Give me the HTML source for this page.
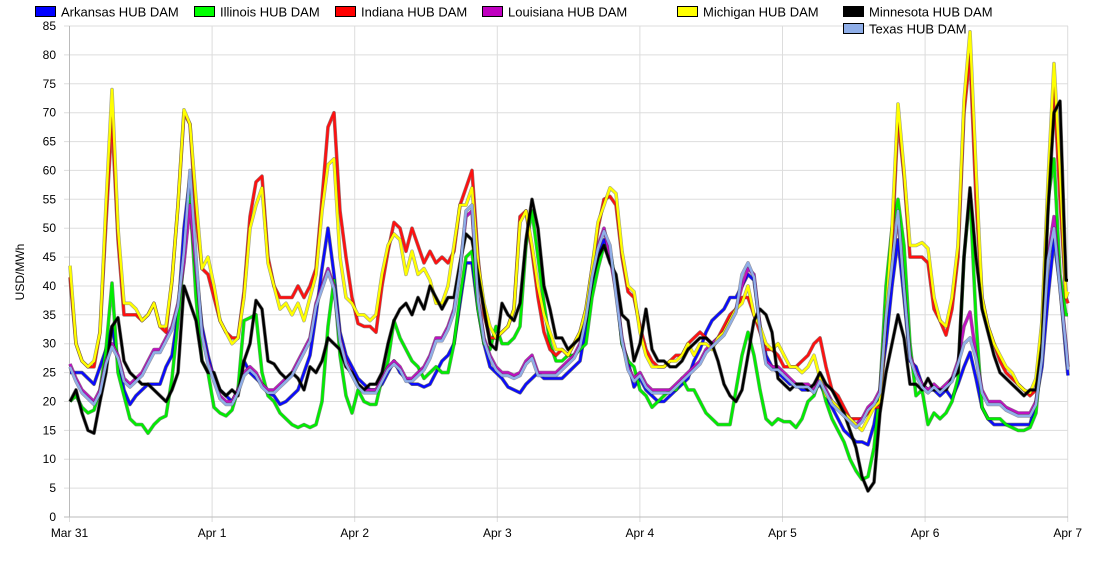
<!DOCTYPE html>
<html><head><meta charset="utf-8"><style>
body{margin:0;background:#fff;width:1100px;height:570px;overflow:hidden;font-family:"Liberation Sans",sans-serif}
</style></head><body>
<svg id="s" width="1100" height="570" xmlns="http://www.w3.org/2000/svg" font-family="Liberation Sans, sans-serif" font-size="12"></svg>
<script>
const S=document.getElementById('s');let h='';
const X0=69.5,DX=142.6,Y0=517,PU=5.776;
const y=v=>Y0-v*PU;
for(let v=0;v<=85;v+=5){const yy=y(v).toFixed(1);h+=`<line x1="64" x2="1068" y1="${yy}" y2="${yy}" stroke="#ddd"/>`;h+=`<text x="56" y="${(+yy+4).toFixed(1)}" text-anchor="end" fill="#000">${v}</text>`;}
const days=['Mar 31','Apr 1','Apr 2','Apr 3','Apr 4','Apr 5','Apr 6','Apr 7'];
days.forEach((d,i)=>{const x=(X0+DX*i).toFixed(1);h+=`<line x1="${x}" x2="${x}" y1="26" y2="522" stroke="#ddd"/>`;h+=`<text x="${x}" y="537" text-anchor="middle">${d}</text>`;});
h+=`<line x1="69.5" x2="69.5" y1="26" y2="517" stroke="#bbb"/><line x1="64" x2="1068" y1="517" y2="517" stroke="#bbb"/>`;
h+=`<text transform="translate(24,272) rotate(-90)" text-anchor="middle">USD/MWh</text>`;
function P(s){return s.split(',').map(p=>p.split(':').map(Number));}
const MI=P("70:43.5,76:30,82:27,88:26,94:27,100:32,106:54,112:74,118:50,124:37,130:37,136:36,142:34,148:35,154:37,160:33,166:33,172:41,178:54,184:70.5,190:68,196:55,202:43,208:45,214:40,220:34,226:32,232:30,238:31,244:38,250:50,256:54,262:57,268:44,274:40,280:36,286:37,292:35,298:37,304:34,310:38,316:42,322:53,328:61,334:62,340:45,346:38,352:37,358:35,364:35,370:34,376:35,382:42,388:47,394:49,400:48,406:42,412:46,418:42,424:43,430:41,436:37,442:37,448:40,454:47,460:54,466:54,472:57,478:44,484:37,490:33,496:31,502:32,508:33,514:36,520:51,526:53,532:47,538:40,544:35,550:32,556:29,562:29,568:28,574:30,580:32,586:36,592:43,598:51,604:54,610:57,616:56,622:46,628:40,634:39,640:32,646:28,652:26,658:26,664:26,670:27,676:27,682:28,688:30,694:28,700:30,706:30,712:29,718:31,724:32,730:34,736:36,742:37,748:40,754:35,760:33,766:30,772:29,778:30,784:28,790:26,796:26,802:25,808:26,814:28,820:24,826:21,832:20,838:19,844:18,850:17,856:16,862:15,868:17,874:19,880:20,886:35,892:50,898:71.5,904:60,910:47,916:47,922:47.5,928:46.5,934:38,940:34,946:33,952:38,958:47,964:72,970:84,976:60,982:38,988:33,994:30,1000:28,1006:26,1012:25,1018:23,1024:22,1030:21.5,1036:24,1042:34,1048:58,1054:78.5,1060:60,1066:38,1068:39");
const IN=P("70:41.5,76:30,82:27,88:26,94:26,100:32,106:51,112:69,118:48,124:35,130:35,136:35,142:34,148:35,154:37,160:33,166:32,172:41,178:54,184:70,190:68,196:52,202:43,208:42,214:38,220:34,226:32,232:31,238:31,244:39,250:52,256:58,262:59,268:45,274:40,280:38,286:38,292:38,298:40,304:38,310:40,316:43,322:55,328:67.5,334:70,340:53,346:45,352:38,358:33.5,364:33,370:33,376:32,382:40,388:46,394:51,400:50,406:46,412:50,418:47,424:44,430:46,436:44,442:45,448:44,454:46,460:54,466:57,472:60,478:45,484:35,490:31,496:31,502:32,508:33,514:36,520:52,526:53,532:46,538:38,544:32,550:29,556:28,562:29,568:28,574:30,580:32,586:36,592:43,598:50,604:55,610:55.5,616:54,622:45,628:39,634:38,640:33,646:29,652:27,658:26,664:26,670:27,676:28,682:28,688:30,694:31,700:32,706:31,712:30,718:31,724:33,730:35,736:36,742:38,748:38,754:35,760:32,766:29,772:29,778:28,784:26,790:26,796:26,802:27,808:28,814:30,820:31,826:26,832:22,838:21,844:19,850:17,856:17,862:17,868:18,874:19,880:19,886:34,892:47,898:69,904:59,910:45,916:45,922:45,928:44,934:36,940:34,946:31.5,952:36,958:45,964:70,970:80,976:55,982:38,988:33,994:30,1000:27,1006:25,1012:24,1018:23,1024:22,1030:21,1036:22,1042:33,1048:55,1054:75,1060:55,1066:38,1068:37");
const MN=P("70:20,76:22,82:18,88:15,94:14.5,100:20,106:25,112:33,118:34.5,124:27,130:25,136:24,142:23,148:23,154:22,160:21,166:20,172:22,178:25,184:40,190:37,196:34,202:27,208:25,214:25,220:22,226:21,232:22,238:21,244:27,250:30,256:37.5,262:36,268:27,274:26.5,280:25,286:24,292:25,298:24,304:22,310:26,316:25,322:27,328:31,334:30,340:29,346:26,352:25,358:23,364:22,370:23,376:23,382:25,388:30,394:34,400:36,406:37,412:35,418:38,424:36,430:40,436:38,442:36,448:38,454:38,460:44,466:49,472:48,478:42,484:36,490:30,496:29,502:37,508:35,514:34,520:37,526:48,532:55,538:50,544:40,550:36,556:31,562:31,568:29,574:30,580:31,586:34,592:41,598:45,604:47,610:44,616:42,622:35,628:34,634:27,640:30,646:36,652:29,658:27,664:27,670:26,676:26,682:27,688:29,694:30,700:31,706:31,712:30,718:27,724:23,730:21,736:20,742:22,748:28,754:34,760:36,766:35,772:32,778:24,784:23,790:22,796:23,802:23,808:22,814:23,820:25,826:23,832:22,838:20,844:18,850:15,856:12,862:7,868:4.5,874:6,880:18,886:25,892:30,898:35,904:31,910:23,916:23,922:22,928:24,934:22,940:22,946:22,952:24,958:25,964:45,970:57,976:45,982:36,988:32,994:28,1000:25,1006:24,1012:23,1018:22,1024:21,1030:22,1036:22,1042:30,1048:53,1054:70,1060:72,1066:41,1068:41");
const AR=P("70:25,76:25,82:25,88:24,94:23,100:26,106:29,112:33,118:27,124:22,130:19.5,136:21,142:22,148:23,154:23,160:23,166:26,172:28,178:35,184:50,190:59,196:43,202:33,208:28,214:24,220:22,226:21,232:20,238:22,244:27,250:25,256:24,262:23,268:21.5,274:21,280:19.5,286:20,292:21,298:22,304:25,310:28,316:35,322:43,328:50,334:42,340:32,346:28,352:26,358:24,364:23,370:22,376:22,382:23,388:25,394:27,400:25,406:24,412:23,418:23,424:22.5,430:23,436:25,442:27,448:28,454:30,460:37,466:44,472:44,478:36,484:30,490:26,496:25,502:24,508:22.5,514:22,520:21.5,526:23,532:24,538:25,544:24,550:24,556:24,562:24,568:25,574:26,580:27,586:33,592:40,598:45,604:48,610:46,616:40,622:30,628:27,634:22.5,640:24,646:22,652:21,658:20,664:20,670:21,676:22,682:23,688:24,694:27,700:29,706:32,712:34,718:35,724:36,730:38,736:38,742:40,748:42,754:41,760:33,766:28,772:26,778:25,784:24,790:23,796:23,802:22,808:22,814:22,820:23,826:21,832:19,838:17,844:15,850:14,856:13,862:13,868:12.5,874:16,880:22,886:30,892:40,898:48,904:38,910:27,916:26,922:23,928:22,934:22,940:21,946:22,952:20.5,958:23,964:26,970:28.5,976:24,982:19,988:17,994:16,1000:16,1006:16,1012:16,1018:16,1024:16,1030:16,1036:20,1042:26,1048:38,1054:48,1060:40,1066:28,1068:24.5");
const IL=P("70:20,76:21,82:19,88:18,94:18.5,100:22,106:29,112:40.5,118:25,124:21,130:17,136:16,142:16,148:14.5,154:16,160:17,166:17.5,172:24,178:34,184:45,190:55.5,196:38,202:27,208:25,214:19,220:18,226:17.5,232:18.5,238:22,244:34,250:34.5,256:35,262:25,268:21,274:20,280:18,286:17,292:16,298:15.5,304:16,310:15.5,316:16,322:20,328:33,334:41,340:28,346:21,352:18,358:22,364:20,370:19.5,376:19.5,382:24,388:27,394:34,400:31,406:29,412:27,418:26,424:24,430:25,436:26,442:25,448:25,454:30,460:38,466:45,472:46,478:36,484:30,490:29,496:33,502:30,508:30,514:31,520:33,526:47,532:53,538:45,544:37,550:30,556:27,562:27,568:28,574:28,580:29,586:30,592:38,598:43,604:47,610:46,616:40,622:30,628:27,634:26,640:22,646:21,652:19,658:20,664:21,670:22,676:22,682:24,688:22,694:22,700:20,706:18,712:17,718:16,724:16,730:16,736:22,742:28,748:32,754:28,760:22,766:17,772:16,778:17,784:16.5,790:16.5,796:15.5,802:17,808:20,814:21,820:24,826:20,832:17,838:15,844:13,850:10,856:8,862:6.5,868:7,874:12,880:22,886:40,892:50,898:55,904:47,910:30,916:21,922:22,928:16,934:18,940:17,946:18,952:20,958:24,964:45,970:56,976:34,982:19,988:17,994:17,1000:17,1006:16,1012:15.5,1018:15,1024:15,1030:15.5,1036:18,1042:30,1048:55,1054:62,1060:42,1066:35,1068:35");
const LA=P("70:26.5,76:24,82:22,88:21,94:20,100:22,106:27,112:30,118:28,124:24,130:23,136:24,142:25,148:27,154:29,160:29,166:31,172:33,178:37,184:44,190:54,196:43,202:32,208:27,214:24,220:21,226:20,232:20,238:22,244:25,250:26,256:25,262:23,268:22,274:22,280:23,286:24,292:25,298:27,304:29,310:31,316:37,322:40,328:43,334:40,340:31,346:27,352:25,358:23,364:22,370:22,376:22,382:24,388:26,394:27,400:26,406:24,412:24,418:25,424:26,430:28,436:31,442:31,448:33,454:36,460:43,466:52,472:53,478:38,484:31,490:28,496:26,502:25,508:25,514:24.5,520:25,526:27,532:28,538:25,544:25,550:25,556:25,562:26,568:27,574:28,580:30,586:35,592:42,598:47,604:50,610:45,616:39,622:31,628:26,634:24,640:25,646:23,652:22,658:22,664:22,670:22,676:23,682:24,688:25,694:26,700:27,706:29,712:30,718:31,724:32,730:34,736:36,742:40,748:43,754:42,760:33,766:27,772:26,778:26,784:25,790:24,796:23,802:23,808:23,814:22,820:24,826:22,832:20,838:19,844:18,850:17,856:16,862:17,868:19,874:20,880:22,886:35,892:44,898:52,904:40,910:28,916:25,922:23,928:22,934:23,940:22,946:23,952:24,958:27,964:33,970:35.5,976:28,982:22,988:20,994:20,1000:20,1006:19,1012:18.5,1018:18,1024:18,1030:18,1036:20,1042:28,1048:45,1054:52,1060:40,1066:30,1068:26");
const ov={190:60,196:45,184:46,466:53,472:54,898:53,970:31,964:30,1054:50,742:42,748:44,610:47};
const TX=LA.map(([x,v])=>[x,(ov[x]!==undefined?ov[x]:v-0.5)]);
function line(d,c,dark){const pts=d.map(([x,v])=>x+','+y(v).toFixed(1)).join(' ');
return `<polyline points="${pts}" fill="none" stroke="${dark}" stroke-width="3.6" stroke-linejoin="round" opacity="0.55"/><polyline points="${pts}" fill="none" stroke="${c}" stroke-width="2.4" stroke-linejoin="round"/>`;}
h+=line(AR,'#0a0aff','#000');h+=line(IL,'#00ee00','#040');h+=line(IN,'#ff1010','#400');
h+=line(LA,'#c010c0','#303');h+=line(MI,'#ffff00','#553');h+=line(MN,'#000','#000');h+=line(TX,'#8faee8','#445');
const leg=[['Arkansas HUB DAM','#0000ff',35,12],['Illinois HUB DAM','#00ff00',194,12],['Indiana HUB DAM','#ff0000',335,12],['Louisiana HUB DAM','#c000c0',482,12],['Michigan HUB DAM','#ffff00',677,12],['Minnesota HUB DAM','#000000',843,12],['Texas HUB DAM','#8faee8',843,29]];
leg.forEach(([t,c,x,yy])=>{h+=`<rect x="${x+0.5}" y="${yy-5.5}" width="20" height="10" fill="${c}" stroke="#000"/><text x="${x+26}" y="${yy+4.5}" font-size="13">${t}</text>`;});
S.innerHTML=h;
</script>
</body></html>
